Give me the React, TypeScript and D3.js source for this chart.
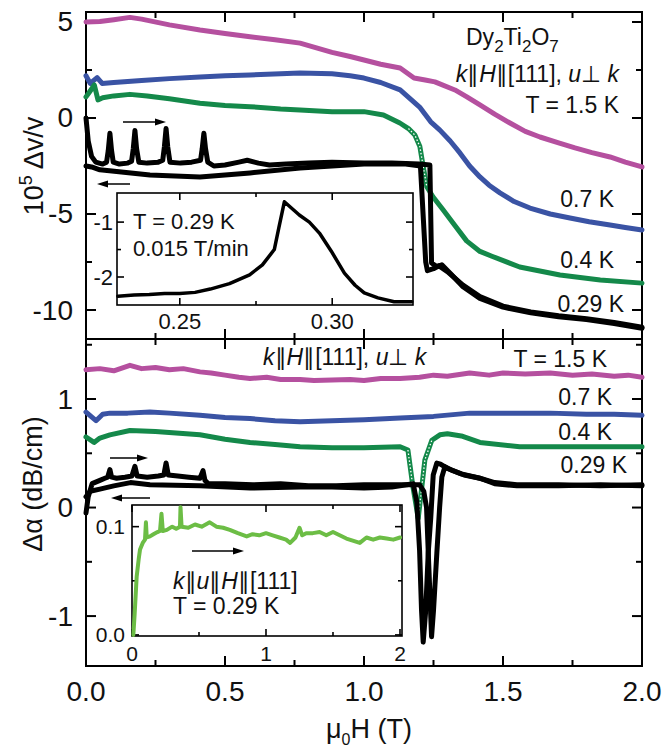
import React from "react";
import * as d3 from "d3";

// ---- data (field in T, value) ----
// upper panel: 10^5 dv/v
const sound15K = [[0,5.0],[0.05,5.02],[0.1,5.12],[0.158,5.24],[0.2,5.15],[0.3,4.85],[0.41,4.58],[0.5,4.4],[0.59,4.23],[0.68,4.08],[0.77,3.9],[0.885,3.42],[0.95,3.2],[1.0,3.02],[1.06,2.8],[1.13,2.6],[1.18,2.08],[1.22,1.98],[1.255,1.88],[1.327,1.46],[1.37,1.1],[1.417,0.68],[1.47,0.2],[1.525,-0.26],[1.58,-0.7],[1.633,-0.99],[1.7,-1.3],[1.759,-1.56],[1.82,-1.8],[1.885,-2.03],[1.94,-2.3],[2.0,-2.55]];
const sound07K = [[0,2.2],[0.015,1.8],[0.04,2.1],[0.058,1.8],[0.1,1.85],[0.2,1.95],[0.3,2.05],[0.41,2.13],[0.5,2.2],[0.59,2.24],[0.7,2.3],[0.77,2.34],[0.885,2.3],[0.95,2.2],[1.0,2.08],[1.06,1.85],[1.13,1.46],[1.2,0.57],[1.24,-0.2],[1.273,-0.63],[1.31,-1.2],[1.345,-1.82],[1.38,-2.5],[1.417,-3.07],[1.45,-3.5],[1.489,-3.9],[1.54,-4.35],[1.597,-4.69],[1.67,-5.0],[1.741,-5.21],[1.81,-5.4],[1.885,-5.57],[1.94,-5.7],[2.0,-5.83]];
const sound04K = [[0,1.1],[0.01,1.3],[0.03,1.72],[0.043,0.94],[0.06,1.05],[0.1,1.15],[0.158,1.23],[0.22,1.15],[0.3,1.0],[0.41,0.77],[0.5,0.65],[0.59,0.59],[0.7,0.47],[0.77,0.42],[0.885,0.33],[1.0,0.33],[1.07,0.16],[1.129,-0.26],[1.16,-0.55],[1.183,-0.89],[1.201,-1.49],[1.213,-2.54],[1.226,-3.58],[1.248,-4.1],[1.285,-4.79],[1.327,-5.6],[1.369,-6.4],[1.417,-6.95],[1.46,-7.2],[1.56,-7.76],[1.705,-8.18],[1.85,-8.44],[2.0,-8.6]];
const sound029Up = [[0,0],[0.008,-1.2],[0.02,-2.0],[0.035,-2.3],[0.06,-2.4],[0.074,-2.3],[0.08,-1.7],[0.086,-0.8],[0.092,-1.7],[0.098,-2.3],[0.12,-2.4],[0.15,-2.35],[0.164,-2.25],[0.17,-1.6],[0.176,-0.65],[0.182,-1.6],[0.19,-2.3],[0.22,-2.35],[0.26,-2.3],[0.276,-2.2],[0.282,-1.5],[0.288,-0.55],[0.294,-1.5],[0.302,-2.3],[0.34,-2.35],[0.38,-2.3],[0.412,-2.2],[0.418,-1.6],[0.424,-0.8],[0.43,-1.6],[0.438,-2.3],[0.46,-2.5],[0.5,-2.45],[0.55,-2.3],[0.58,-2.2],[0.62,-2.35],[0.66,-2.45],[0.72,-2.4],[0.8,-2.35],[0.885,-2.3],[1.0,-2.35],[1.1,-2.35],[1.2,-2.4],[1.237,-2.45],[1.243,-7.55],[1.262,-7.74],[1.28,-7.65],[1.309,-8.07],[1.356,-8.79],[1.417,-9.4],[1.5,-9.85],[1.6,-10.15],[1.7,-10.35],[1.8,-10.5],[1.9,-10.7],[2.0,-10.95]];
const sound029Down = [[2.0,-10.9],[1.9,-10.65],[1.8,-10.45],[1.7,-10.3],[1.6,-10.1],[1.5,-9.8],[1.417,-9.3],[1.356,-8.7],[1.3,-8.0],[1.27,-7.7],[1.25,-7.85],[1.228,-7.95],[1.222,-7.5],[1.203,-2.5],[1.15,-2.4],[1.0,-2.4],[0.885,-2.5],[0.77,-2.6],[0.59,-2.86],[0.41,-3.07],[0.23,-2.97],[0.05,-2.7],[0.02,-2.55],[0,-2.5]];
// upper inset
const insetSound = [[0.2297,-2.35],[0.235,-2.33],[0.24,-2.32],[0.245,-2.3],[0.25,-2.3],[0.255,-2.28],[0.26,-2.22],[0.2663,-2.12],[0.2729,-1.96],[0.2771,-1.78],[0.281,-1.5],[0.2825,-1.1],[0.2843,-0.63],[0.2892,-0.87],[0.2925,-1.0],[0.2958,-1.2],[0.2997,-1.53],[0.304,-1.93],[0.3075,-2.15],[0.3105,-2.29],[0.315,-2.38],[0.3203,-2.45],[0.3261,-2.45]];

// lower panel: attenuation (dB/cm)
const atten15K = [[0,1.27],[0.05,1.28],[0.1,1.26],[0.158,1.31],[0.2,1.28],[0.25,1.29],[0.3,1.27],[0.35,1.28],[0.41,1.25],[0.45,1.24],[0.5,1.22],[0.55,1.2],[0.59,1.19],[0.65,1.2],[0.7,1.18],[0.77,1.18],[0.82,1.17],[0.885,1.175],[0.95,1.18],[1.0,1.17],[1.06,1.19],[1.13,1.19],[1.2,1.2],[1.25,1.22],[1.3,1.21],[1.38,1.24],[1.45,1.22],[1.5,1.24],[1.58,1.23],[1.67,1.24],[1.75,1.22],[1.82,1.23],[1.9,1.21],[1.95,1.22],[2.0,1.2]];
const atten07K = [[0,0.88],[0.036,0.8],[0.06,0.86],[0.086,0.87],[0.15,0.87],[0.23,0.88],[0.3,0.87],[0.41,0.85],[0.5,0.83],[0.59,0.82],[0.68,0.8],[0.77,0.79],[0.885,0.8],[1.0,0.81],[1.13,0.825],[1.25,0.84],[1.38,0.87],[1.5,0.87],[1.67,0.87],[1.8,0.86],[1.9,0.86],[2.0,0.85]];
const atten04K = [[0,0.65],[0.029,0.6],[0.05,0.64],[0.086,0.67],[0.158,0.71],[0.25,0.7],[0.41,0.67],[0.5,0.63],[0.59,0.6],[0.68,0.58],[0.77,0.56],[0.885,0.55],[1.0,0.55],[1.13,0.56],[1.158,0.53],[1.176,0.19],[1.19,-0.02],[1.195,-0.1],[1.208,0.19],[1.219,0.44],[1.244,0.62],[1.273,0.67],[1.3,0.68],[1.35,0.66],[1.417,0.6],[1.56,0.56],[1.77,0.56],[2.0,0.56]];
const atten029Up = [[0,-0.05],[0.008,0.1],[0.022,0.22],[0.05,0.25],[0.068,0.27],[0.078,0.28],[0.086,0.35],[0.092,0.28],[0.11,0.27],[0.14,0.28],[0.165,0.29],[0.176,0.38],[0.184,0.29],[0.22,0.28],[0.26,0.29],[0.28,0.3],[0.288,0.41],[0.296,0.3],[0.33,0.29],[0.37,0.28],[0.41,0.27],[0.421,0.34],[0.428,0.25],[0.44,0.22],[0.5,0.22],[0.6,0.21],[0.7,0.22],[0.8,0.2],[0.9,0.2],[1.0,0.21],[1.1,0.21],[1.2,0.21],[1.215,0.15],[1.225,0.0],[1.234,-0.6],[1.243,-1.19],[1.25,-0.95],[1.262,-0.42],[1.272,0.0],[1.28,0.28],[1.291,0.376],[1.32,0.34],[1.36,0.3],[1.417,0.27],[1.47,0.22],[1.55,0.2],[1.7,0.2],[1.85,0.21],[2.0,0.2]];
const atten029Down = [[2.0,0.21],[1.85,0.2],[1.7,0.21],[1.55,0.21],[1.47,0.23],[1.417,0.27],[1.35,0.31],[1.3,0.36],[1.275,0.4],[1.262,0.41],[1.249,0.3],[1.24,-0.1],[1.231,-0.42],[1.222,-0.95],[1.213,-1.24],[1.207,-0.95],[1.2,-0.4],[1.19,0.05],[1.177,0.22],[1.1,0.19],[1.0,0.18],[0.885,0.19],[0.77,0.19],[0.59,0.18],[0.41,0.2],[0.23,0.21],[0.16,0.23],[0.1,0.2],[0.05,0.17],[0.015,0.15],[0,0.1]];
// lower inset, k || u || H
const insetAtten = [[0.01,0.0],[0.02,0.02],[0.035,0.054],[0.05,0.07],[0.06,0.079],[0.08,0.085],[0.097,0.088],[0.104,0.104],[0.11,0.09],[0.134,0.091],[0.16,0.093],[0.19,0.095],[0.209,0.096],[0.22,0.112],[0.23,0.096],[0.26,0.097],[0.3,0.1],[0.33,0.098],[0.358,0.1],[0.362,0.118],[0.37,0.1],[0.42,0.099],[0.47,0.102],[0.52,0.1],[0.58,0.104],[0.63,0.1],[0.68,0.099],[0.73,0.097],[0.79,0.094],[0.856,0.091],[0.9,0.093],[0.95,0.092],[1.0,0.094],[1.05,0.092],[1.1,0.09],[1.15,0.088],[1.18,0.085],[1.22,0.09],[1.25,0.099],[1.27,0.092],[1.3,0.094],[1.35,0.094],[1.4,0.095],[1.45,0.092],[1.5,0.095],[1.55,0.092],[1.6,0.089],[1.7,0.085],[1.75,0.09],[1.8,0.088],[1.85,0.09],[1.9,0.089],[1.95,0.088],[2.0,0.09]];

// ticks
const xMajor = [0, 0.5, 1, 1.5, 2];
const xMinor = [0.25, 0.75, 1.25, 1.75];
const xLabels = ["0.0", "0.5", "1.0", "1.5", "2.0"];
const topMajor = [-10, -5, 0, 5];
const topMinor = [-7.5, -2.5, 2.5];
const topLabels = ["-10", "-5", "0", "5"];
const botMajor = [-1, 0, 1];
const botMinor = [-0.5, 0.5, 1.5];
const botLabels = ["-1", "0", "1"];
const in1XMajor = [0.25, 0.3];
const in1XMinor = [0.275];
const in1XLabels = ["0.25", "0.30"];
const in1YMajor = [-2, -1];
const in1YMinor = [-1.5];
const in1YLabels = ["-2", "-1"];
const in2XMajor = [0, 1, 2];
const in2XMinor = [0.5, 1.5];
const in2XLabels = ["0", "1", "2"];
const in2YMajor = [0, 0.1];
const in2YMinor = [0.05];
const in2YLabels = ["0.0", "0.1"];

const MAGENTA = "#b5509f";
const BLUE = "#3a53a4";
const GREEN = "#14894a";
const LGREEN = "#6cbd45";
const FONT = "'Liberation Sans', Arial, Helvetica, sans-serif";

function Frame({ x, y, xMaj, xMin, yMaj, yMin, big, small, sw }) {
  const [x0, x1] = x.range();
  const [y1, y0] = y.range();
  const t = [];
  xMaj.concat(xMin).forEach((v, i) => {
    const len = i < xMaj.length ? big : small;
    const px = x(v);
    t.push(<line key={"xb" + i} x1={px} x2={px} y1={y1} y2={y1 - len} />);
    t.push(<line key={"xt" + i} x1={px} x2={px} y1={y0} y2={y0 + len} />);
  });
  yMaj.concat(yMin).forEach((v, i) => {
    const len = i < yMaj.length ? big : small;
    const py = y(v);
    t.push(<line key={"yl" + i} x1={x0} x2={x0 + len} y1={py} y2={py} />);
    t.push(<line key={"yr" + i} x1={x1} x2={x1 - len} y1={py} y2={py} />);
  });
  return (
    <g stroke="#000" strokeWidth={sw} fill="none">
      <rect x={x0} y={y0} width={x1 - x0} height={y1 - y0} fill="#fff" />
      {t}
    </g>
  );
}

function Arrow({ x1, x2, y }) {
  const dir = x2 > x1 ? 1 : -1;
  return (
    <g>
      <line x1={x1} x2={x2 - dir * 9} y1={y} y2={y} stroke="#000" strokeWidth={1.5} />
      <polygon points={`${x2},${y} ${x2 - dir * 11},${y - 3.5} ${x2 - dir * 11},${y + 3.5}`} fill="#000" />
    </g>
  );
}

export default function App() {
  const x = d3.scaleLinear().domain([0, 2]).range([86, 642]);
  const yTop = d3.scaleLinear().domain([-11.51, 5.52]).range([339, 12]);
  const yBot = d3.scaleLinear().domain([-1.46, 1.553]).range([666, 339]);
  const xIn1 = d3.scaleLinear().domain([0.2294, 0.3265]).range([117, 413]);
  const yIn1 = d3.scaleLinear().domain([-2.51, -0.47]).range([305, 193]);
  const xIn2 = d3.scaleLinear().domain([0, 2.015]).range([132, 402]);
  const yIn2 = d3.scaleLinear().domain([-0.001, 0.12]).range([636, 505]);

  const lineTop = d3.line().x((d) => x(d[0])).y((d) => yTop(d[1]));
  const lineBot = d3.line().x((d) => x(d[0])).y((d) => yBot(d[1]));
  const lineIn1 = d3.line().x((d) => xIn1(d[0])).y((d) => yIn1(d[1]));
  const lineIn2 = d3.line().x((d) => xIn2(d[0])).y((d) => yIn2(d[1]));

  const steepTop = sound04K.filter((d) => d[0] >= 1.16 && d[0] <= 1.23);
  const steepBot = atten04K.filter((d) => d[0] >= 1.158 && d[0] <= 1.244);

  const curve = (d, gen, color, w) => (
    <path d={gen(d)} fill="none" stroke={color} strokeWidth={w} strokeLinejoin="round" strokeLinecap="round" />
  );

  return (
    <svg
      width={664}
      height={751}
      style={{ position: "absolute", left: 0, top: 0, display: "block", fontFamily: FONT, background: "#fff" }}
    >
      {/* upper panel */}
      <Frame x={x} y={yTop} xMaj={xMajor} xMin={xMinor} yMaj={topMajor} yMin={topMinor} big={10} small={6} sw={2} />
      {curve(sound15K, lineTop, MAGENTA, 5)}
      {curve(sound07K, lineTop, BLUE, 5)}
      {curve(sound04K, lineTop, GREEN, 5)}
      <path d={lineTop(steepTop)} fill="none" stroke="#fff" strokeWidth={1.3} strokeDasharray="1.5 2" />
      {curve(sound029Down, lineTop, "#000", 5)}
      {curve(sound029Up, lineTop, "#000", 5)}
      <Arrow x1={123} x2={166} y={122} />
      <Arrow x1={130} x2={97} y={184} />

      {/* lower panel */}
      <Frame x={x} y={yBot} xMaj={xMajor} xMin={xMinor} yMaj={botMajor} yMin={botMinor} big={10} small={6} sw={2} />
      {curve(atten15K, lineBot, MAGENTA, 5)}
      {curve(atten07K, lineBot, BLUE, 5)}
      {curve(atten04K, lineBot, GREEN, 5)}
      <path d={lineBot(steepBot)} fill="none" stroke="#fff" strokeWidth={1.3} strokeDasharray="1.5 2" />
      {curve(atten029Down, lineBot, "#000", 5)}
      {curve(atten029Up, lineBot, "#000", 5)}
      <Arrow x1={110} x2={148} y={458} />
      <Arrow x1={150} x2={111} y={498} />

      {/* upper inset */}
      <Frame x={xIn1} y={yIn1} xMaj={in1XMajor} xMin={in1XMinor} yMaj={in1YMajor} yMin={in1YMinor} big={7} small={4} sw={1.6} />
      {curve(insetSound, lineIn1, "#000", 3.5)}
      <g fontSize={22} fill="#111">
        {in1XMajor.map((v, i) => (
          <text key={i} x={xIn1(v)} y={329} textAnchor="middle">{in1XLabels[i]}</text>
        ))}
        {in1YMajor.map((v, i) => (
          <text key={i} x={113} y={yIn1(v)} textAnchor="end" dominantBaseline="central">{in1YLabels[i]}</text>
        ))}
        <text x={133} y={229}>T = 0.29 K</text>
        <text x={133} y={256}>0.015 T/min</text>
      </g>

      {/* lower inset */}
      <Frame x={xIn2} y={yIn2} xMaj={in2XMajor} xMin={in2XMinor} yMaj={in2YMajor} yMin={in2YMinor} big={7} small={4} sw={1.6} />
      {curve(insetAtten, lineIn2, LGREEN, 4)}
      <Arrow x1={192} x2={244} y={551} />
      <g fontSize={21} fill="#111">
        {in2XMajor.map((v, i) => (
          <text key={i} x={xIn2(v)} y={661} textAnchor="middle">{in2XLabels[i]}</text>
        ))}
        {in2YMajor.map((v, i) => (
          <text key={i} x={125} y={yIn2(v)} textAnchor="end" dominantBaseline="central">{in2YLabels[i]}</text>
        ))}
      </g>
      <g fontSize={23} fill="#111">
        <text x={173} y={589}>
          <tspan fontStyle="italic">k</tspan>∥<tspan fontStyle="italic">u</tspan>∥<tspan fontStyle="italic">H</tspan>∥[111]
        </text>
        <text x={173} y={614}>T = 0.29 K</text>
      </g>

      {/* main tick labels */}
      <g fontSize={28} fill="#111">
        {xMajor.map((v, i) => (
          <text key={i} x={x(v)} y={701} textAnchor="middle">{xLabels[i]}</text>
        ))}
        {topMajor.map((v, i) => (
          <text key={i} x={73} y={yTop(v)} textAnchor="end" dominantBaseline="central">{topLabels[i]}</text>
        ))}
        {botMajor.map((v, i) => (
          <text key={i} x={73} y={yBot(v)} textAnchor="end" dominantBaseline="central">{botLabels[i]}</text>
        ))}
      </g>

      {/* axis titles */}
      <g fontSize={27} fill="#111">
        <text x={369} y={738} textAnchor="middle">
          μ<tspan fontSize={16} dy={7}>0</tspan><tspan dy={-7}>H (T)</tspan>
        </text>
        <text transform="translate(43,166) rotate(-90)" textAnchor="middle">
          10<tspan fontSize={18} dy={-11}>5</tspan><tspan dy={11}> Δv/v</tspan>
        </text>
        <text transform="translate(42,484) rotate(-90)" textAnchor="middle">
          Δα (dB/cm)
        </text>
      </g>

      {/* annotations */}
      <g fontSize={23} fill="#111">
        <text x={466} y={45}>
          Dy<tspan fontSize={17} dy={7}>2</tspan><tspan dy={-7}>Ti</tspan><tspan fontSize={17} dy={7}>2</tspan><tspan dy={-7}>O</tspan><tspan fontSize={17} dy={7}>7</tspan>
        </text>
        <text x={619} y={82} textAnchor="end">
          <tspan fontStyle="italic">k</tspan>∥<tspan fontStyle="italic">H</tspan>∥[111], <tspan fontStyle="italic">u</tspan>⊥ <tspan fontStyle="italic">k</tspan>
        </text>
        <text x={619} y={113} textAnchor="end">T = 1.5 K</text>
        <text x={614} y={207} textAnchor="end">0.7 K</text>
        <text x={614} y={268} textAnchor="end">0.4 K</text>
        <text x={624} y={312} textAnchor="end">0.29 K</text>

        <text x={263} y={365}>
          <tspan fontStyle="italic">k</tspan>∥<tspan fontStyle="italic">H</tspan>∥[111], <tspan fontStyle="italic">u</tspan>⊥ <tspan fontStyle="italic">k</tspan>
        </text>
        <text x={607} y={367} textAnchor="end">T = 1.5 K</text>
        <text x={612} y={405} textAnchor="end">0.7 K</text>
        <text x={612} y={440} textAnchor="end">0.4 K</text>
        <text x={627} y={473} textAnchor="end">0.29 K</text>
      </g>
    </svg>
  );
}
